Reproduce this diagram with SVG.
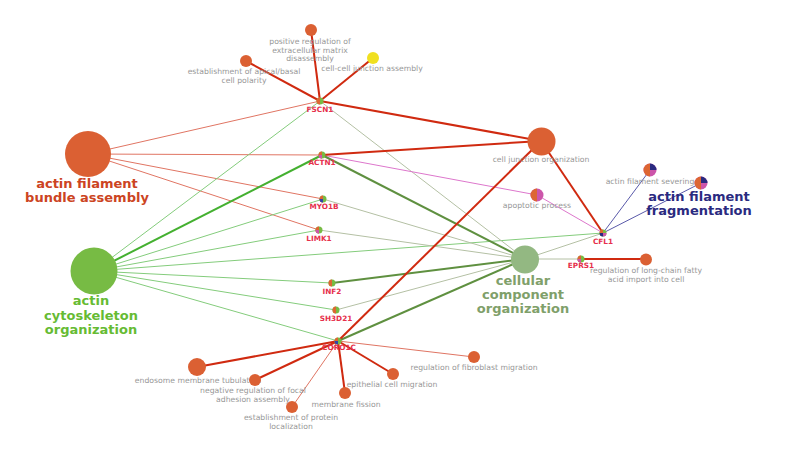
<svg xmlns="http://www.w3.org/2000/svg" xmlns:xlink="http://www.w3.org/1999/xlink" width="785" height="466" viewBox="0 0 785 466">
<style>
.lbl{font-family:"DejaVu Sans",Verdana,sans-serif;font-size:7.7px;fill:#979797;text-anchor:middle}
.gene{font-family:"DejaVu Sans",Verdana,sans-serif;font-size:7.3px;font-weight:bold;fill:#e6304c;text-anchor:middle}
.big{font-family:"DejaVu Sans",Verdana,sans-serif;font-size:13px;font-weight:bold;text-anchor:middle}
.term{fill:#db6033}
.e-red{stroke:#d02a10;stroke-width:2;fill:none}
.e-sal{stroke:#e07563;stroke-width:1;fill:none}
.e-lg{stroke:#84cc7c;stroke-width:1;fill:none}
.e-g{stroke:#44b030;stroke-width:2;fill:none}
.e-dg{stroke:#5f9040;stroke-width:2;fill:none}
.e-gg{stroke:#b4c0a4;stroke-width:1;fill:none}
.e-pk{stroke:#dd77cc;stroke-width:1;fill:none}
.e-nv{stroke:#5a5aaa;stroke-width:1;fill:none}
</style>
<defs>
<g id="pgO">
<circle r="3.5" fill="#77bb44"/>
<path d="M0,-3.5 A3.5,3.5 0 0 0 0,3.5 Z" fill="#dd6633"/>
</g>
<g id="pgB">
<circle r="3.5" fill="#77bb44"/>
<path d="M0,-3.5 A3.5,3.5 0 0 0 0,3.5 Z" fill="#dd6633"/>
<path d="M0,0 L0,3.5 A3.5,3.5 0 0 1 -3.5,0 Z" fill="#3344aa"/>
</g>
<g id="pgC">
<circle r="3.5" fill="#77bb44"/>
<path d="M0,0 L0,-3.5 A3.5,3.5 0 0 0 -3.5,0 Z" fill="#dd6633"/>
<path d="M0,0 L-3.5,0 A3.5,3.5 0 0 0 0,3.5 Z" fill="#2a2a80"/>
<path d="M0,0 L0,3.5 A3.5,3.5 0 0 0 3.5,0 Z" fill="#cc55aa"/>
</g>
<g id="pgE">
<circle r="3.5" fill="#77bb44"/>
<path d="M0,-3.5 A3.5,3.5 0 0 0 0,3.5 Z" fill="#dd6633"/>
<path d="M0,0 L0,3.5 A3.5,3.5 0 0 1 -3.5,0 Z" fill="#cc55aa"/>
</g>
<g id="pApo">
<circle r="6.5" fill="#cc55aa"/>
<path d="M0,-6.5 A6.5,6.5 0 0 0 0,6.5 Z" fill="#dd6633"/>
</g>
<g id="pSev">
<circle r="6.5" fill="#cc55aa"/>
<path d="M0,-6.5 A6.5,6.5 0 0 0 0,6.5 Z" fill="#dd6633"/>
<path d="M0,0 L0,-6.5 A6.5,6.5 0 0 1 6.5,0 Z" fill="#2a2a80"/>
</g>
</defs>
<rect width="785" height="466" fill="#ffffff"/>
<g id="edges">
<line class="e-sal" x1="88" y1="154" x2="320" y2="101"/>
<line class="e-sal" x1="88" y1="154" x2="322" y2="155"/>
<line class="e-sal" x1="88" y1="154" x2="323" y2="199"/>
<line class="e-sal" x1="88" y1="154" x2="319" y2="230"/>
<line class="e-lg" x1="94" y1="271" x2="320" y2="101"/>
<line class="e-lg" x1="94" y1="271" x2="323" y2="199"/>
<line class="e-lg" x1="94" y1="271" x2="319" y2="230"/>
<line class="e-lg" x1="94" y1="271" x2="603" y2="233"/>
<line class="e-lg" x1="94" y1="271" x2="332" y2="283"/>
<line class="e-lg" x1="94" y1="271" x2="336" y2="310"/>
<line class="e-lg" x1="94" y1="271" x2="338" y2="341"/>
<line class="e-gg" x1="525" y1="259" x2="320" y2="101"/>
<line class="e-gg" x1="525" y1="259" x2="323" y2="199"/>
<line class="e-gg" x1="525" y1="259" x2="319" y2="230"/>
<line class="e-gg" x1="525" y1="259" x2="603" y2="233"/>
<line class="e-gg" x1="525" y1="259" x2="581" y2="259"/>
<line class="e-gg" x1="525" y1="259" x2="336" y2="310"/>
<line class="e-pk" x1="322" y1="155" x2="537" y2="195"/>
<line class="e-pk" x1="603" y1="233" x2="537" y2="195"/>
<line class="e-nv" x1="603" y1="233" x2="650" y2="170"/>
<line class="e-nv" x1="603" y1="233" x2="701" y2="183"/>
<line class="e-sal" x1="338" y1="341" x2="292" y2="407"/>
<line class="e-sal" x1="338" y1="341" x2="474" y2="357"/>
<line class="e-g" x1="94" y1="271" x2="322" y2="155"/>
<line class="e-dg" x1="525" y1="259" x2="322" y2="155"/>
<line class="e-dg" x1="525" y1="259" x2="332" y2="283"/>
<line class="e-dg" x1="525" y1="259" x2="338" y2="341"/>
<line class="e-red" x1="320" y1="101" x2="311" y2="30"/>
<line class="e-red" x1="320" y1="101" x2="246" y2="61"/>
<line class="e-red" x1="320" y1="101" x2="373" y2="58"/>
<line class="e-red" x1="320" y1="101" x2="541" y2="141"/>
<line class="e-red" x1="322" y1="155" x2="541" y2="141"/>
<line class="e-red" x1="603" y1="233" x2="541" y2="141"/>
<line class="e-red" x1="338" y1="341" x2="541" y2="141"/>
<line class="e-red" x1="581" y1="259" x2="646" y2="259"/>
<line class="e-red" x1="338" y1="341" x2="197" y2="367"/>
<line class="e-red" x1="338" y1="341" x2="255" y2="380"/>
<line class="e-red" x1="338" y1="341" x2="345" y2="393"/>
<line class="e-red" x1="338" y1="341" x2="393" y2="374"/>
</g>
<g id="n-bundle">
<circle class="term" cx="88" cy="154" r="23"/>
<text class="big" x="87" y="188" fill="#cc4422">actin filament</text>
<text class="big" x="87" y="202" fill="#cc4422">bundle assembly</text>
</g>
<g id="n-actincyto">
<circle cx="94" cy="271" r="23.5" fill="#77bb44"/>
<text class="big" x="91" y="305" fill="#66bb33">actin</text>
<text class="big" x="91" y="320" fill="#66bb33">cytoskeleton</text>
<text class="big" x="91" y="334" fill="#66bb33">organization</text>
</g>
<g id="n-cellcomp">
<circle cx="525" cy="259.5" r="14" fill="#93b882"/>
<text class="big" x="523" y="285" fill="#7fa06a">cellular</text>
<text class="big" x="523" y="299" fill="#7fa06a">component</text>
<text class="big" x="523" y="313" fill="#7fa06a">organization</text>
</g>
<g id="n-frag">
<use href="#pSev" x="701" y="183"/>
<text class="big" x="699" y="201" fill="#2a2a80">actin filament</text>
<text class="big" x="699" y="215" fill="#2a2a80">fragmentation</text>
</g>
<g id="n-sever">
<use href="#pSev" x="650" y="170"/>
<text class="lbl" x="650" y="184">actin filament severing</text>
</g>
<g id="n-apoptotic">
<use href="#pApo" x="537" y="195"/>
<text class="lbl" x="537" y="208">apoptotic process</text>
</g>
<g id="n-celljunc">
<circle class="term" cx="541.5" cy="141.5" r="14"/>
<text class="lbl" x="541" y="162">cell junction organization</text>
</g>
<g id="n-posreg">
<circle class="term" cx="311" cy="30" r="6"/>
<text class="lbl" x="310" y="44">positive regulation of</text>
<text class="lbl" x="310" y="52.5">extracellular matrix</text>
<text class="lbl" x="310" y="61">disassembly</text>
</g>
<g id="n-apical">
<circle class="term" cx="246" cy="61" r="6"/>
<text class="lbl" x="244" y="74">establishment of apical/basal</text>
<text class="lbl" x="244" y="82.5">cell polarity</text>
</g>
<g id="n-ccja">
<circle cx="373" cy="58" r="6" fill="#f0e020"/>
<text class="lbl" x="372" y="71">cell-cell junction assembly</text>
</g>
<g id="n-lcfa">
<circle class="term" cx="646" cy="259.5" r="6"/>
<text class="lbl" x="646" y="273">regulation of long-chain fatty</text>
<text class="lbl" x="646" y="281.5">acid import into cell</text>
</g>
<g id="n-endo">
<circle class="term" cx="197" cy="367" r="9"/>
<text class="lbl" x="198" y="383">endosome membrane tubulation</text>
</g>
<g id="n-negfocal">
<circle class="term" cx="255" cy="380" r="6"/>
<text class="lbl" x="253" y="393">negative regulation of focal</text>
<text class="lbl" x="253" y="401.5">adhesion assembly</text>
</g>
<g id="n-protloc">
<circle class="term" cx="292" cy="407" r="6"/>
<text class="lbl" x="291" y="420">establishment of protein</text>
<text class="lbl" x="291" y="428.5">localization</text>
</g>
<g id="n-fission">
<circle class="term" cx="345" cy="393" r="6"/>
<text class="lbl" x="346" y="407">membrane fission</text>
</g>
<g id="n-epith">
<circle class="term" cx="393" cy="374" r="6"/>
<text class="lbl" x="392" y="387">epithelial cell migration</text>
</g>
<g id="n-fibro">
<circle class="term" cx="474" cy="357" r="6"/>
<text class="lbl" x="474" y="370">regulation of fibroblast migration</text>
</g>
<g id="n-fscn1">
<use href="#pgO" x="320" y="101"/>
<text class="gene" x="320" y="111.5">FSCN1</text>
</g>
<g id="n-actn1">
<use href="#pgE" x="322" y="155"/>
<text class="gene" x="322" y="165">ACTN1</text>
</g>
<g id="n-myo1b">
<use href="#pgB" x="323" y="199"/>
<text class="gene" x="324" y="209">MYO1B</text>
</g>
<g id="n-limk1">
<use href="#pgE" x="319" y="230"/>
<text class="gene" x="319" y="240.5">LIMK1</text>
</g>
<g id="n-inf2">
<use href="#pgO" x="332" y="283"/>
<text class="gene" x="332" y="293.5">INF2</text>
</g>
<g id="n-sh3d21">
<use href="#pgO" x="336" y="310"/>
<text class="gene" x="336" y="320.5">SH3D21</text>
</g>
<g id="n-coro1c">
<use href="#pgB" x="338" y="341"/>
<text class="gene" x="339" y="350">CORO1C</text>
</g>
<g id="n-cfl1">
<use href="#pgC" x="603" y="233"/>
<text class="gene" x="603" y="243.5">CFL1</text>
</g>
<g id="n-eprs1">
<use href="#pgE" x="581" y="259"/>
<text class="gene" x="581" y="268">EPRS1</text>
</g>
</svg>
